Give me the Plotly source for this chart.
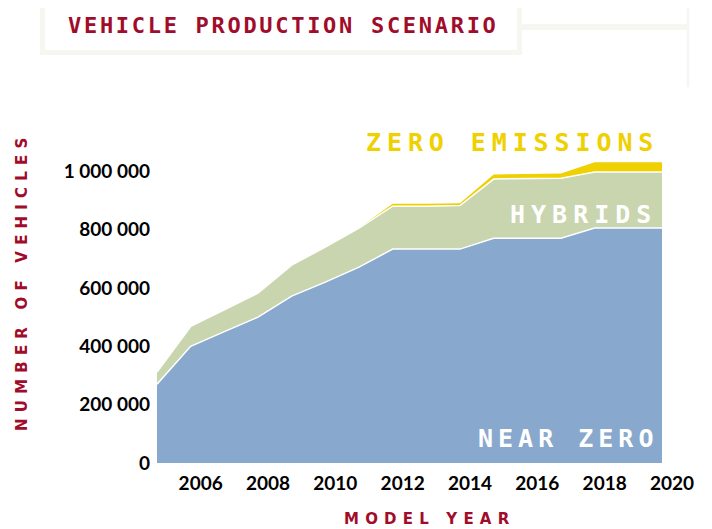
import plotly.graph_objects as go

years = list(range(2005, 2021))
near_zero = [270000, 400000, 450000, 500000, 572000, 620000, 671000, 733000,
             733000, 733000, 770000, 770000, 770000, 805000, 805000, 805000]
hybrids = [42000, 68000, 75000, 82000, 106000, 120000, 134000, 147000,
           147000, 149000, 203000, 205000, 206000, 192000, 192000, 192000]
zero_emissions = [0, 0, 0, 0, 0, 0, 1000, 8000,
                  8000, 8000, 16000, 16000, 16000, 34000, 34000, 34000]

BLUE = "#88A8CD"
GREEN = "#C9D5AE"
YELLOW = "#EFD000"
RED = "#A00C2A"
FAINT = "#F7F7F2"

# page body has an 8px margin, so the figure is drawn 8px in from the corner
OFF = 8
W, H = 712 - OFF, 529 - OFF
# plot area in page pixels
L, R, T, B = 157, 662, 142, 463


def px(x):
    return (x - L) / (R - L)


def py(y):
    return (B - y) / (B - T)


def spaced(txt, sp):
    return f"<span style='letter-spacing:{sp}px'>{txt}</span>"


fig = go.Figure()
fig.add_trace(go.Scatter(x=years, y=near_zero, stackgroup="a", mode="lines",
                         line=dict(color="white", width=1.5), fillcolor=BLUE,
                         name="Near zero"))
fig.add_trace(go.Scatter(x=years, y=hybrids, stackgroup="a", mode="lines",
                         line=dict(color="white", width=1.5), fillcolor=GREEN,
                         name="Hybrids"))
fig.add_trace(go.Scatter(x=years, y=zero_emissions, stackgroup="a", mode="lines",
                         line=dict(color=YELLOW, width=0), fillcolor=YELLOW,
                         name="Zero emissions"))

lab_font = dict(family="DejaVu Sans Mono", size=25)

annotations = [
    dict(x=px(661), y=py(142), text=spaced("<b>ZERO EMISSIONS</b>", 5.9),
         font=dict(lab_font, color=YELLOW), xanchor="right", yanchor="middle"),
    dict(x=px(659), y=py(214), text=spaced("<b>HYBRIDS</b>", 6),
         font=dict(lab_font, color="white"), xanchor="right", yanchor="middle"),
    dict(x=px(660), y=py(438), text=spaced("<b>NEAR ZERO</b>", 5),
         font=dict(lab_font, color="white"), xanchor="right", yanchor="middle"),
    dict(x=px(66), y=py(25), text=spaced("<b>VEHICLE PRODUCTION SCENARIO</b>", 2.7),
         font=dict(family="DejaVu Sans Mono", size=22, color=RED),
         xanchor="left", yanchor="middle"),
    dict(x=px(22), y=py(281), text=spaced("<b>NUMBER OF VEHICLES</b>", 6.2),
         font=dict(family="DejaVu Sans", size=15, color=RED), textangle=-90,
         xanchor="center", yanchor="middle"),
    dict(x=px(429), y=py(519), text=spaced("<b>MODEL YEAR</b>", 6.2),
         font=dict(family="DejaVu Sans", size=15, color=RED),
         xanchor="center", yanchor="middle"),
]
for a in annotations:
    a.update(xref="paper", yref="paper", showarrow=False)

shapes = [
    dict(type="rect", x0=px(42.5), x1=px(519.5), y0=py(2.5), y1=py(52.5),
         line=dict(color=FAINT, width=5)),
    dict(type="line", x0=px(522), x1=px(688), y0=py(27), y1=py(27),
         line=dict(color=FAINT, width=6)),
    dict(type="line", x0=px(688), x1=px(688), y0=py(5), y1=py(87),
         line=dict(color=FAINT, width=3)),
]
for s in shapes:
    s.update(xref="paper", yref="paper", layer="below")

fig.update_layout(
    width=W, height=H,
    margin=dict(l=L - OFF, r=712 - R, t=T - OFF, b=529 - B),
    paper_bgcolor="white", plot_bgcolor="white",
    showlegend=False,
    separators=". ",
    annotations=annotations,
    shapes=shapes,
    font=dict(family="Lato", color="black"),
)
fig.update_xaxes(range=[2005, 2020], tickvals=list(range(2006, 2021, 2)),
                 showgrid=False, zeroline=False, showline=False,
                 ticks="", ticklabelshift=10, ticklabelstandoff=7,
                 tickfont=dict(family="Lato", size=19, color="black", weight="bold"))
fig.update_yaxes(range=[0, 1100000], tickvals=list(range(0, 1000001, 200000)),
                 tickformat=",d",
                 showgrid=False, zeroline=False, showline=False,
                 ticks="", ticklabelstandoff=6,
                 tickfont=dict(family="Lato", size=19, color="black", weight="bold"))

fig.write_html("out.html")
